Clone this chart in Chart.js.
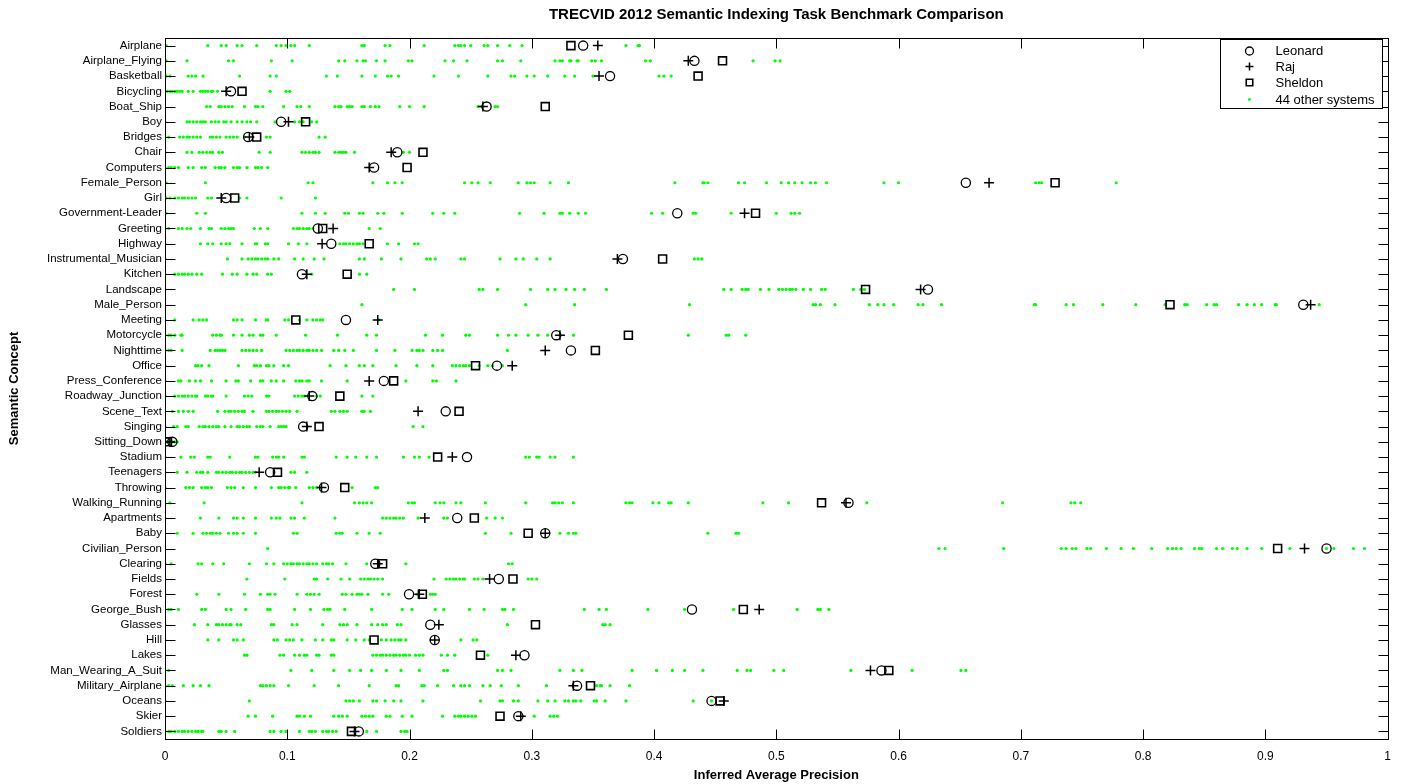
<!DOCTYPE html>
<html>
<head>
<meta charset="utf-8">
<script src="https://cdn.jsdelivr.net/npm/chart.js@4.4.0/dist/chart.umd.min.js"></script>
<style>
html, body { margin: 0; padding: 0; background: #fff; }
</style>
</head>
<body>
<canvas id="chart" width="1401" height="784"></canvas>
<script>
const concepts = ["Airplane","Airplane_Flying","Basketball","Bicycling","Boat_Ship","Boy","Bridges","Chair","Computers","Female_Person","Girl","Government-Leader","Greeting","Highway","Instrumental_Musician","Kitchen","Landscape","Male_Person","Meeting","Motorcycle","Nighttime","Office","Press_Conference","Roadway_Junction","Scene_Text","Singing","Sitting_Down","Stadium","Teenagers","Throwing","Walking_Running","Apartments","Baby","Civilian_Person","Clearing","Fields","Forest","George_Bush","Glasses","Hill","Lakes","Man_Wearing_A_Suit","Military_Airplane","Oceans","Skier","Soldiers"];

const leonard = [0.342,0.433,0.364,0.054,0.263,0.095,0.068,0.190,0.171,0.655,0.050,0.419,0.125,0.136,0.3745,0.112,0.624,0.931,0.148,0.320,0.332,0.2715,0.179,0.1205,0.2296,0.113,0.006,0.247,0.086,0.130,0.559,0.239,0.311,0.950,0.172,0.273,0.1996,0.431,0.217,0.2206,0.294,0.586,0.337,0.447,0.289,0.1585];
const raj = [0.354,0.428,0.355,0.050,0.260,0.101,0.069,0.185,0.167,0.674,0.046,0.474,0.1375,0.1285,0.370,0.116,0.618,0.937,0.174,0.323,0.311,0.284,0.167,0.118,0.207,0.116,0.004,0.235,0.077,0.128,0.557,0.2125,0.311,0.932,0.174,0.2655,0.208,0.486,0.224,0.2206,0.287,0.577,0.334,0.457,0.291,0.155];
const sheldon = [0.332,0.456,0.436,0.063,0.311,0.115,0.075,0.211,0.198,0.728,0.057,0.483,0.129,0.167,0.407,0.149,0.573,0.822,0.107,0.379,0.352,0.254,0.187,0.143,0.2405,0.126,0.002,0.223,0.092,0.147,0.537,0.253,0.297,0.910,0.178,0.2846,0.2105,0.473,0.303,0.171,0.258,0.592,0.348,0.454,0.274,0.1525];

// 44 other systems, one row per concept (overlapping dots read once)
const others = [
  [0.001,0.035,0.046,0.050,0.059,0.063,0.075,0.091,0.095,0.099,0.103,0.106,0.118,0.161,0.163,0.180,0.184,0.212,0.237,0.240,0.242,0.245,0.250,0.261,0.264,0.272,0.282,0.292,0.377,0.387,0.388],
  [0.001,0.018,0.052,0.056,0.087,0.104,0.142,0.147,0.157,0.162,0.164,0.173,0.180,0.199,0.202,0.229,0.236,0.247,0.272,0.276,0.291,0.319,0.323,0.325,0.331,0.337,0.332,0.338,0.349,0.352,0.357,0.393,0.397,0.481,0.499,0.503],
  [0.001,0.004,0.019,0.022,0.025,0.031,0.061,0.086,0.091,0.132,0.141,0.161,0.172,0.182,0.185,0.191,0.220,0.240,0.264,0.283,0.286,0.296,0.302,0.313,0.327,0.335,0.350,0.404,0.408,0.414],
  [0,0.002,0.004,0.006,0.008,0.010,0.012,0.014,0.019,0.023,0.029,0.031,0.033,0.035,0.038,0.039,0.043,0.086,0.099,0.102],
  [0.034,0.037,0.044,0.046,0.049,0.052,0.055,0.065,0.074,0.076,0.080,0.097,0.108,0.111,0.118,0.139,0.142,0.144,0.149,0.151,0.153,0.161,0.163,0.168,0.172,0.175,0.192,0.200,0.212,0.256,0.259,0.270,0.272],
  [0,0.018,0.020,0.023,0.026,0.029,0.031,0.033,0.038,0.041,0.044,0.048,0.050,0.054,0.059,0.063,0.067,0.070,0.075,0.090,0.106,0.110,0.113,0.120,0.124],
  [0,0.003,0.012,0.015,0.018,0.020,0.023,0.026,0.029,0.037,0.039,0.042,0.045,0.050,0.053,0.056,0.059,0.065,0.083,0.086,0.126,0.131],
  [0,0.018,0.022,0.028,0.031,0.034,0.037,0.039,0.044,0.047,0.077,0.086,0.112,0.115,0.118,0.121,0.123,0.126,0.139,0.142,0.144,0.146,0.148,0.155,0.195,0.200],
  [0,0.003,0.005,0.008,0.011,0.019,0.023,0.030,0.033,0.041,0.044,0.046,0.049,0.056,0.059,0.061,0.067,0.074,0.076,0.079,0.084],
  [0.001,0.033,0.117,0.121,0.170,0.182,0.188,0.194,0.245,0.251,0.256,0.266,0.289,0.296,0.299,0.302,0.315,0.330,0.417,0.440,0.441,0.444,0.469,0.474,0.492,0.504,0.510,0.515,0.521,0.528,0.532,0.541,0.588,0.600,0.712,0.715,0.717,0.778],
  [0.001,0.004,0.008,0.011,0.014,0.016,0.019,0.022,0.025,0.035,0.038,0.061,0.067,0.095,0.123],
  [0.001,0.026,0.033,0.112,0.123,0.131,0.147,0.150,0.159,0.162,0.174,0.179,0.194,0.219,0.228,0.237,0.290,0.310,0.323,0.325,0.331,0.338,0.344,0.398,0.407,0.432,0.434,0.463,0.500,0.512,0.515,0.519],
  [0,0.003,0.011,0.014,0.018,0.021,0.029,0.036,0.038,0.046,0.049,0.052,0.054,0.056,0.073,0.078,0.084,0.105,0.108,0.110,0.113,0.116,0.118,0.121,0.167,0.176],
  [0,0.029,0.035,0.039,0.046,0.050,0.053,0.063,0.074,0.075,0.082,0.084,0.101,0.109,0.116,0.143,0.146,0.148,0.151,0.154,0.157,0.159,0.162,0.182,0.191,0.204,0.207],
  [0,0.051,0.063,0.068,0.071,0.074,0.076,0.079,0.082,0.084,0.089,0.093,0.106,0.113,0.122,0.130,0.159,0.163,0.177,0.193,0.214,0.217,0.221,0.242,0.245,0.274,0.287,0.293,0.304,0.315,0.433,0.436,0.439],
  [0,0.008,0.011,0.014,0.016,0.019,0.022,0.026,0.030,0.047,0.055,0.059,0.067,0.072,0.075,0.084,0.087,0.120,0.159,0.165],
  [0,0.187,0.204,0.257,0.260,0.272,0.299,0.313,0.319,0.328,0.335,0.343,0.361,0.457,0.463,0.472,0.475,0.477,0.487,0.494,0.502,0.505,0.508,0.511,0.513,0.516,0.522,0.528,0.537,0.540,0.563,0.569,0.572],
  [0.161,0.295,0.335,0.429,0.530,0.532,0.536,0.548,0.576,0.583,0.588,0.596,0.616,0.620,0.635,0.711,0.712,0.737,0.743,0.767,0.794,0.818,0.834,0.836,0.852,0.858,0.860,0.878,0.885,0.891,0.897,0.908,0.909,0.944],
  [0,0.008,0.023,0.028,0.031,0.034,0.056,0.059,0.063,0.074,0.083,0.084,0.098,0.101,0.110,0.116,0.121,0.124,0.127,0.129,0.175],
  [0,0.003,0.005,0.008,0.013,0.014,0.039,0.042,0.045,0.046,0.056,0.063,0.069,0.072,0.078,0.080,0.091,0.115,0.141,0.165,0.173,0.213,0.227,0.246,0.249,0.272,0.281,0.287,0.297,0.305,0.313,0.334,0.428,0.459,0.461,0.475],
  [0,0.003,0.005,0.014,0.037,0.041,0.043,0.045,0.047,0.049,0.063,0.066,0.069,0.072,0.075,0.079,0.099,0.102,0.105,0.108,0.110,0.113,0.116,0.118,0.121,0.124,0.128,0.138,0.142,0.147,0.154,0.173,0.188,0.202,0.206,0.208,0.211,0.219,0.223,0.227,0.280],
  [0,0.025,0.027,0.030,0.036,0.060,0.073,0.075,0.078,0.083,0.085,0.089,0.097,0.101,0.135,0.148,0.159,0.163,0.170,0.189,0.206,0.219,0.235,0.238,0.241,0.244,0.246,0.249,0.257,0.264,0.268,0.276],
  [0,0.011,0.013,0.020,0.025,0.029,0.038,0.050,0.058,0.060,0.070,0.078,0.080,0.087,0.091,0.097,0.107,0.110,0.112,0.116,0.118,0.128,0.149,0.197,0.219,0.222,0.238],
  [0,0.008,0.011,0.014,0.016,0.019,0.022,0.025,0.026,0.033,0.035,0.038,0.039,0.050,0.065,0.068,0.071,0.083,0.085,0.106,0.109,0.112,0.114,0.124,0.127,0.161,0.170],
  [0.006,0.011,0.015,0.019,0.023,0.043,0.049,0.052,0.054,0.057,0.060,0.063,0.065,0.072,0.083,0.085,0.088,0.091,0.093,0.096,0.099,0.102,0.108,0.136,0.139,0.143,0.146,0.149,0.161,0.163,0.168],
  [0,0.007,0.010,0.017,0.019,0.028,0.031,0.033,0.036,0.039,0.042,0.044,0.049,0.054,0.059,0.061,0.064,0.067,0.069,0.075,0.078,0.080,0.086,0.093,0.095,0.097,0.099,0.203,0.211],
  [0,0.001,0.002,0.003,0.004,0.005,0.006,0.008,0.010],
  [0,0.013,0.021,0.024,0.035,0.037,0.053,0.074,0.076,0.088,0.091,0.093,0.097,0.112,0.114,0.140,0.149,0.156,0.165,0.173,0.195,0.204,0.208,0.216,0.295,0.298,0.304,0.306,0.315,0.319,0.334],
  [0,0.010,0.018,0.026,0.029,0.031,0.035,0.042,0.044,0.047,0.050,0.053,0.055,0.058,0.061,0.063,0.066,0.069,0.072,0.074,0.103,0.106,0.116],
  [0,0.017,0.020,0.023,0.030,0.033,0.035,0.038,0.051,0.054,0.057,0.064,0.074,0.087,0.093,0.095,0.098,0.101,0.102,0.107,0.118,0.121,0.124,0.127,0.153,0.172,0.174],
  [0.004,0.032,0.112,0.155,0.159,0.162,0.165,0.169,0.199,0.202,0.204,0.221,0.225,0.228,0.238,0.242,0.262,0.295,0.317,0.319,0.322,0.325,0.334,0.377,0.380,0.382,0.399,0.404,0.412,0.414,0.428,0.489,0.510,0.574,0.685,0.741,0.744,0.749],
  [0,0.029,0.044,0.056,0.059,0.064,0.074,0.087,0.091,0.094,0.103,0.106,0.114,0.139,0.178,0.181,0.184,0.187,0.189,0.192,0.195,0.207,0.228,0.231,0.263,0.270,0.276],
  [0,0.010,0.023,0.031,0.034,0.037,0.039,0.042,0.045,0.052,0.056,0.059,0.064,0.074,0.105,0.108,0.140,0.143,0.145,0.157,0.167,0.176,0.262,0.283,0.323,0.330,0.334,0.336,0.444,0.467,0.469],
  [0.084,0.633,0.638,0.686,0.733,0.737,0.742,0.745,0.754,0.757,0.770,0.782,0.792,0.807,0.820,0.824,0.827,0.831,0.842,0.846,0.848,0.860,0.865,0.873,0.877,0.885,0.897,0.920,0.950,0.956,0.972,0.981],
  [0,0.005,0.027,0.030,0.039,0.048,0.069,0.083,0.089,0.097,0.100,0.103,0.105,0.108,0.110,0.113,0.116,0.118,0.121,0.124,0.129,0.132,0.134,0.137,0.148,0.165,0.197,0.281,0.284],
  [0,0.067,0.098,0.122,0.124,0.133,0.144,0.151,0.160,0.163,0.166,0.168,0.171,0.174,0.178,0.220,0.230,0.233,0.236,0.238,0.241,0.244,0.245,0.253,0.256,0.260,0.297,0.300,0.304],
  [0,0.026,0.044,0.065,0.078,0.084,0.086,0.090,0.108,0.116,0.119,0.122,0.126,0.145,0.148,0.153,0.157,0.159,0.161,0.166,0.178,0.183,0.206,0.217,0.219,0.221],
  [0,0.003,0.005,0.011,0.030,0.033,0.050,0.054,0.066,0.084,0.086,0.106,0.119,0.130,0.133,0.135,0.147,0.169,0.194,0.202,0.221,0.228,0.249,0.261,0.276,0.278,0.285,0.343,0.355,0.361,0.395,0.425,0.465,0.517,0.534,0.536,0.543],
  [0,0.024,0.035,0.042,0.044,0.047,0.050,0.053,0.054,0.059,0.062,0.087,0.089,0.104,0.108,0.129,0.143,0.146,0.149,0.157,0.169,0.174,0.178,0.181,0.190,0.193,0.280,0.358,0.360,0.364],
  [0,0.035,0.044,0.056,0.059,0.064,0.089,0.092,0.099,0.102,0.105,0.112,0.123,0.129,0.136,0.138,0.149,0.156,0.163,0.167,0.177,0.181,0.185,0.188,0.191,0.193,0.197,0.242,0.252,0.255],
  [0,0.065,0.067,0.094,0.097,0.106,0.110,0.114,0.116,0.124,0.126,0.136,0.138,0.170,0.173,0.176,0.178,0.181,0.184,0.187,0.189,0.192,0.195,0.197,0.200,0.205,0.208,0.211,0.226,0.231,0.237,0.264],
  [0.003,0.103,0.120,0.138,0.151,0.160,0.169,0.181,0.193,0.208,0.228,0.231,0.272,0.276,0.283,0.323,0.334,0.341,0.382,0.402,0.415,0.425,0.440,0.468,0.476,0.479,0.498,0.506,0.561,0.611,0.651,0.655],
  [0,0.003,0.006,0.015,0.023,0.029,0.036,0.078,0.080,0.083,0.086,0.089,0.101,0.122,0.142,0.167,0.189,0.191,0.210,0.212,0.223,0.236,0.242,0.245,0.249,0.260,0.266,0.275,0.289,0.312,0.353,0.356,0.357,0.364,0.380],
  [0,0.069,0.148,0.151,0.154,0.159,0.170,0.173,0.180,0.187,0.193,0.211,0.258,0.274,0.276,0.285,0.289,0.305,0.313,0.319,0.327,0.330,0.334,0.336,0.340,0.351,0.353,0.360,0.377,0.432,0.447],
  [0,0.068,0.074,0.088,0.108,0.110,0.114,0.119,0.138,0.142,0.145,0.149,0.161,0.164,0.167,0.170,0.181,0.184,0.194,0.202,0.227,0.237,0.240,0.242,0.245,0.248,0.251,0.254,0.302,0.315,0.318,0.321],
  [0,0.003,0.005,0.008,0.011,0.014,0.016,0.019,0.022,0.025,0.027,0.030,0.031,0.044,0.046,0.050,0.057,0.086,0.089,0.095,0.099,0.110,0.118,0.120,0.123,0.129,0.132,0.134,0.137,0.140,0.165,0.173,0.193,0.196,0.198]
];

const xTicks = [0, 0.1, 0.2, 0.3, 0.4, 0.5, 0.6, 0.7, 0.8, 0.9, 1];

const FONT = "'Liberation Sans', Arial, Helvetica, sans-serif";
Chart.defaults.font.family = FONT;
Chart.defaults.color = '#000';

function toPoints(values) {
    return values.map((v, i) => ({ x: v, y: concepts[i] }));
}

let otherPoints = [];
for (let i = 0; i < others.length; i++) {
    for (let j = 0; j < others[i].length; j++) {
        otherPoints.push({ x: others[i][j], y: concepts[i] });
    }
}

// box around the plot and inward tick marks, matlab style
const framePlugin = {
    id: 'frame',
    afterDatasetsDraw(chart) {
        const ctx = chart.ctx;
        const a = chart.chartArea;
        const xs = chart.scales.x, ys = chart.scales.y;
        const L = Math.round(a.left) + 0.5, R = Math.round(a.right) + 0.5;
        const T = Math.round(a.top) + 0.5, B = Math.round(a.bottom) + 0.5;
        ctx.save();
        ctx.strokeStyle = '#000';
        ctx.lineWidth = 1;
        ctx.beginPath();
        for (let i = 0; i < xs.ticks.length; i++) {
            const x = Math.round(xs.getPixelForTick(i)) + 0.5;
            ctx.moveTo(x, B); ctx.lineTo(x, B - 10);
            ctx.moveTo(x, T); ctx.lineTo(x, T + 10);
        }
        for (let i = 0; i < ys.ticks.length; i++) {
            const y = Math.round(ys.getPixelForTick(i)) + 0.5;
            ctx.moveTo(L, y); ctx.lineTo(L + 10, y);
            ctx.moveTo(R, y); ctx.lineTo(R - 10, y);
        }
        ctx.stroke();
        ctx.strokeRect(L, T, R - L, B - T);
        ctx.restore();
    },
    afterDraw(chart) {
        const ctx = chart.ctx;
        const a = chart.chartArea;
        const w = 162, h = 69;
        const bx = Math.round(a.right) - 6 - w + 0.5, by = Math.round(a.top) + 1.5;
        ctx.save();
        ctx.fillStyle = '#fff';
        ctx.fillRect(bx, by, w, h);
        ctx.strokeStyle = '#000';
        ctx.lineWidth = 1;
        ctx.strokeRect(bx, by, w, h);
        const rows = [11.5, 27, 43, 60];
        chart.data.datasets.forEach((ds, i) => {
            const y = by + rows[i];
            ctx.strokeStyle = ds.borderColor;
            ctx.fillStyle = ds.backgroundColor;
            ctx.lineWidth = ds.borderWidth;
            const r = ds.pointStyle === 'rect' ? 4.6 : (ds.pointRadius > 3 ? 4 : 1.4);
            Chart.helpers.drawPoint(ctx, { pointStyle: ds.pointStyle, radius: r, borderWidth: ds.borderWidth, rotation: 0 }, bx + 29, y);
            ctx.fillStyle = '#000';
            ctx.font = '13px ' + FONT;
            ctx.textAlign = 'left';
            ctx.textBaseline = 'middle';
            ctx.fillText(ds.label, bx + 55, y + 0.5);
        });
        ctx.restore();
    }
};

new Chart(document.getElementById('chart'), {
    type: 'scatter',
    data: {
        datasets: [
            { label: 'Leonard', data: toPoints(leonard), pointStyle: 'circle', pointRadius: 4.6, borderColor: '#000', backgroundColor: 'rgba(0,0,0,0)', borderWidth: 1.3 },
            { label: 'Raj', data: toPoints(raj), pointStyle: 'cross', pointRadius: 5, borderColor: '#000', backgroundColor: 'rgba(0,0,0,0)', borderWidth: 1.5 },
            { label: 'Sheldon', data: toPoints(sheldon), pointStyle: 'rect', pointRadius: 5.6, borderColor: '#000', backgroundColor: 'rgba(0,0,0,0)', borderWidth: 1.6 },
            { label: '44 other systems', data: otherPoints, pointStyle: 'circle', pointRadius: 1.6, borderColor: '#00ff00', backgroundColor: '#00ff00', borderWidth: 0 }
        ]
    },
    options: {
        responsive: false,
        animation: false,
        events: [],
        layout: { padding: { left: 0, right: 12, top: 0, bottom: 0 } },
        plugins: {
            legend: { display: false },
            tooltip: { enabled: false },
            title: {
                display: true,
                fullSize: false,
                text: 'TRECVID 2012 Semantic Indexing Task Benchmark Comparison',
                font: { size: 15, weight: 'bold' },
                padding: { top: 6, bottom: 14 }
            }
        },
        scales: {
            x: {
                type: 'linear',
                min: 0,
                max: 1,
                afterBuildTicks(scale) { scale.ticks = xTicks.map(v => ({ value: v })); },
                afterFit(scale) { scale.height = 45; },
                grid: { display: false, drawTicks: false },
                border: { display: false },
                ticks: { font: { size: 12 }, padding: 10, callback: v => String(Math.round(v * 10) / 10) },
                title: { display: true, text: 'Inferred Average Precision', font: { size: 13, weight: 'bold' }, padding: { top: 0, bottom: 1 } }
            },
            y: {
                type: 'category',
                labels: concepts,
                offset: true,
                afterFit(scale) { scale.width = 165; },
                grid: { display: false, drawTicks: false },
                border: { display: false },
                ticks: { font: { size: 11.5 }, padding: 3, autoSkip: false },
                title: { display: true, text: 'Semantic Concept', font: { size: 13, weight: 'bold' }, padding: { top: 7, bottom: 0 } }
            }
        }
    },
    plugins: [framePlugin]
});
</script>
</body>
</html>
